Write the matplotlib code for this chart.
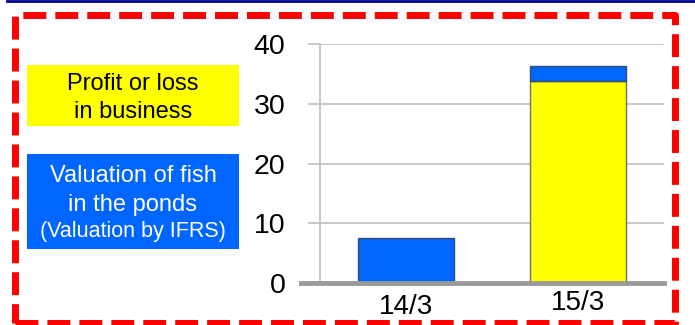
import matplotlib.pyplot as plt
from matplotlib.patches import Rectangle
from matplotlib.lines import Line2D
from matplotlib.transforms import ScaledTranslation, blended_transform_factory

plt.rcParams['font.family'] = ['Liberation Sans', 'DejaVu Sans']

# datos del grafico
categorias = ['14/3', '15/3']
ganancia_negocio = [0.0, 33.8]    # amarillo
valoracion_peces = [7.6, 2.6]     # azul, apilado encima
marcas_y = [0, 10, 20, 30, 40]

AMARILLO = '#FFFF00'
AZUL = '#0066FF'

fig = plt.figure(figsize=(6.95, 3.25), dpi=100)
W, H = 695, 325

ax = fig.add_axes([320 / W, (325 - 283.3) / H, 344 / W, (283.3 - 44) / H])
x = range(len(categorias))

ax.bar(x, ganancia_negocio, width=0.555, color=AMARILLO, edgecolor='#707070', linewidth=1, zorder=3)
ax.bar(x, valoracion_peces, width=0.555, bottom=ganancia_negocio, color=AZUL,
       edgecolor='#3c4a70', linewidth=1, zorder=3)

ax.set_xlim(-0.5, 1.5)
ax.set_ylim(0, 40)
ax.set_yticks(marcas_y)
ax.set_yticklabels([str(v) for v in marcas_y], fontsize=20.5)
ax.grid(axis='y', color='#c4c4c4', linewidth=1.3, zorder=0)
ax.tick_params(axis='y', direction='out', length=9, width=1.3, color='#c4c4c4', pad=16)

ax.set_xticks(list(x))
ax.set_xticklabels(categorias, fontsize=20)
ax.tick_params(axis='x', length=0, pad=5)
# la etiqueta del primer dia queda algo mas abajo
etiq = ax.get_xticklabels()[0]
etiq.set_transform(etiq.get_transform() + ScaledTranslation(0, -3 / 72, fig.dpi_scale_trans))

for lado in ['top', 'right', 'bottom']:
    ax.spines[lado].set_visible(False)
ax.spines['left'].set_color('#c4c4c4')
ax.spines['left'].set_linewidth(1.3)

# linea base gruesa en cero
tr = blended_transform_factory(ax.transAxes, ax.transData)
ax.add_line(Line2D([-0.055, 1.0], [0, 0], transform=tr, color='#9a9a9a',
                   linewidth=3.5, clip_on=False, zorder=4))

# cajas de leyenda a la izquierda
fig.patches.append(Rectangle((27 / W, (325 - 126) / H), 212 / W, 61 / H,
                             transform=fig.transFigure, facecolor=AMARILLO, edgecolor='none'))
fig.text(133 / W, (325 - 98) / H, 'Profit or loss\nin business', ha='center', va='center',
         fontsize=17, color='black', linespacing=1.4)

fig.patches.append(Rectangle((27 / W, (325 - 249) / H), 212 / W, 95 / H,
                             transform=fig.transFigure, facecolor=AZUL, edgecolor='none'))
fig.text(133 / W, (325 - 190.5) / H, 'Valuation of fish\nin the ponds', ha='center', va='center',
         fontsize=17, color='white', linespacing=1.45)
fig.text(133 / W, (325 - 232) / H, '(Valuation by IFRS)', ha='center', va='center',
         fontsize=15.5, color='white')

# marco rojo discontinuo
fig.patches.append(Rectangle((15 / W, 2 / H), 660 / W, 308 / H, transform=fig.transFigure,
                             fill=False, edgecolor='#FF0000', linewidth=5,
                             linestyle=(0, (3.3, 1.3)), joinstyle='round'))

# linea azul oscuro superior
fig.add_artist(Line2D([7 / W, 1], [1 - 1 / H, 1 - 1 / H], transform=fig.transFigure,
                      color='#000090', linewidth=2))

fig.savefig('out.png', dpi=100)
